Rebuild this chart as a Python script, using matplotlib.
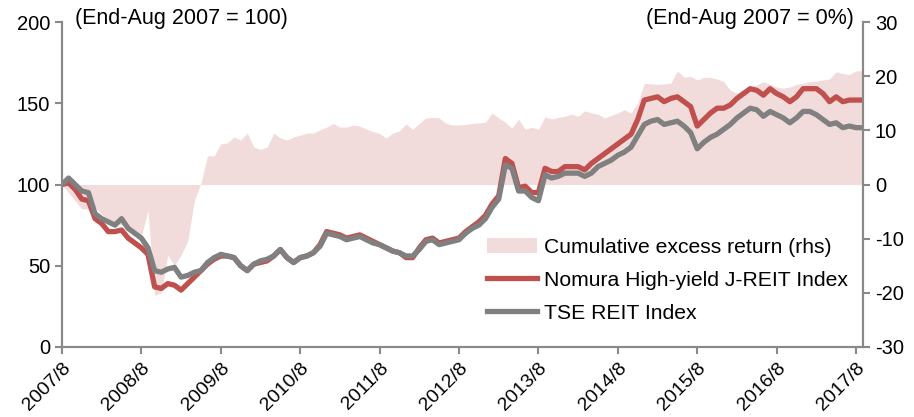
import numpy as np
from matplotlib import pyplot as plt
from matplotlib.patches import Patch
from matplotlib.lines import Line2D

plt.rcParams['font.family'] = ['Liberation Sans', 'DejaVu Sans']
plt.rcParams['axes.unicode_minus'] = False

# monthly, end-Aug 2007 .. Sep 2017
tick_labels = ['2007/8', '2008/8', '2009/8', '2010/8', '2011/8', '2012/8',
               '2013/8', '2014/8', '2015/8', '2016/8', '2017/8']

nomura = [100, 101, 97, 91, 90, 79, 76, 71, 71, 72,
          67, 64, 61, 57, 37, 36, 39, 38, 35, 39,
          43, 47, 51, 54, 56, 56, 55, 50, 47, 51,
          52, 53, 56, 60, 55, 52, 55, 56, 58, 63,
          71, 70, 69, 67, 68, 69, 67, 65, 63, 61,
          59, 58, 55, 55, 61, 66, 67, 64, 65, 66,
          67, 71, 74, 77, 81, 88, 93, 116, 113, 98,
          99, 95, 95, 110, 108, 108, 111, 111, 111, 109,
          113, 116, 119, 122, 125, 128, 131, 140, 152, 153,
          154, 151, 153, 154, 151, 148, 136, 140, 144, 147,
          147, 149, 153, 156, 159, 158, 155, 159, 156, 154,
          151, 154, 159, 159, 159, 156, 151, 154, 151, 152,
          152, 152]

tse = [100, 104, 100, 96, 95, 82, 79, 77, 75, 79,
       73, 70, 67, 61, 47, 46, 48, 49, 43, 44,
       46, 47, 52, 55, 57, 56, 55, 50, 47, 51,
       53, 54, 56, 60, 55, 52, 55, 56, 58, 62,
       70, 69, 68, 66, 67, 68, 66, 64, 63, 61,
       59, 58, 56, 56, 60, 65, 66, 63, 64, 65,
       66, 70, 73, 75, 79, 86, 91, 112, 110, 96,
       96, 92, 90, 106, 104, 105, 107, 107, 107, 105,
       107, 111, 113, 115, 118, 120, 123, 130, 137, 139,
       140, 137, 138, 139, 136, 132, 122, 126, 129, 131,
       134, 137, 141, 144, 147, 146, 142, 145, 143, 141,
       138, 141, 145, 145, 143, 140, 137, 138, 135, 136,
       135, 135]

excess = [0, -1.5, -3, -4.5, -4.5, -4.2, -5.5, -6.5, -7, -7.5,
          -8, -8.8, -9.5, -4.7, -20.5, -20, -13, -15, -13, -10.5,
          -3, 0.3, 5.3, 5.3, 7.5, 7.7, 8.8, 8.2, 9.5, 6.9,
          6.5, 6.9, 9.5, 8.6, 8.2, 8.8, 9.1, 9.5, 9.5, 10.1,
          10.6, 11.3, 10.6, 10.6, 11, 10.8, 10.2, 9.8, 9.4, 8.6,
          9.5, 9.9, 11.2, 10.2, 11.3, 12.3, 12.4, 12.3, 11.3, 11,
          11, 11.1, 11.3, 11.4, 11.5, 13.2, 12.3, 11.5, 10.4, 12.1,
          10.2, 10.6, 10.2, 12.5, 12.1, 12.4, 12.6, 13, 12.6, 13.6,
          13.2, 13, 12.3, 12.8, 13.2, 13.8, 13.2, 15, 18.7, 18.6,
          18.5, 18.6, 18.7, 21, 19.8, 20, 19.3, 19.8, 19.8, 19.5,
          19, 17.4, 16.9, 17.5, 18, 18.4, 19, 18.5, 18, 17.8,
          18, 18.5, 18.7, 19, 19.1, 19.3, 19.5, 20.8, 20.5, 20.3,
          21, 21]

RED = '#c0504d'
GREY = '#808080'
PINK = '#f2dcdb'
AXC = '#898989'


def main():
    months = np.arange(len(nomura))

    fig = plt.figure(figsize=(9.14, 4.17), dpi=100)
    ax = fig.add_axes([0.0678, 0.168, 0.8764, 0.779])
    ax2 = ax.twinx()
    ax.set_zorder(ax2.get_zorder() + 1)
    ax.patch.set_visible(False)

    ax2.fill_between(months, 0, excess, color=PINK, linewidth=0)
    ax.plot(months, nomura, color=RED, lw=3.8, solid_joinstyle='round')
    ax.plot(months, tse, color=GREY, lw=3.8, solid_joinstyle='round')

    ax.set_xlim(0, 121.05)
    ax.set_ylim(0, 200)
    ax2.set_ylim(-30, 30)
    ax.set_yticks(range(0, 201, 50))
    ax2.set_yticks(range(-30, 31, 10))
    ax.set_xticks(range(0, 121, 12))
    ax.set_xticklabels(tick_labels, rotation=45, ha='right', rotation_mode='anchor')

    for a in (ax, ax2):
        for s in a.spines.values():
            s.set_color(AXC)
            s.set_linewidth(1.5)
        a.spines['top'].set_visible(False)
        a.tick_params(colors=AXC, labelcolor='black', width=1.5, length=5, labelsize=14.5)
    ax.tick_params(axis='x', labelsize=14, pad=4)

    ax.text(0.016, 1.012, '(End-Aug 2007 = 100)', transform=ax.transAxes,
            fontsize=15.5, va='center', ha='left')
    ax.text(0.988, 1.012, '(End-Aug 2007 = 0%)', transform=ax.transAxes,
            fontsize=15.5, va='center', ha='right')

    handles = [Patch(facecolor=PINK, edgecolor='none'),
               Line2D([], [], color=RED, lw=3.8),
               Line2D([], [], color=GREY, lw=3.8)]
    labels = ['Cumulative excess return (rhs)', 'Nomura High-yield J-REIT Index',
              'TSE REIT Index']
    ax.legend(handles, labels, loc='upper left', bbox_to_anchor=(0.53, 0.336),
              frameon=False, fontsize=15.2, handlelength=2.4, handletextpad=0.3,
              labelspacing=0.66, borderpad=0, borderaxespad=0)

    fig.savefig('out.png', dpi=100)


if __name__ == "__main__":
    main()
